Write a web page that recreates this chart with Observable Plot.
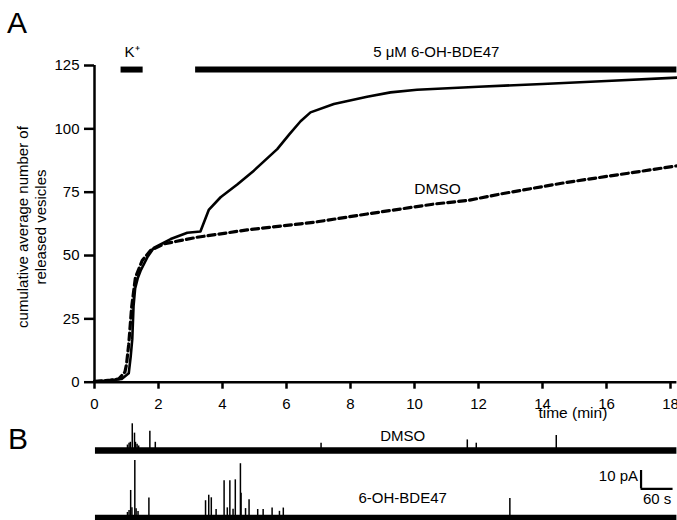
<!DOCTYPE html>
<html><head><meta charset="utf-8">
<script src="https://cdn.jsdelivr.net/npm/d3@7"></script>
<script src="https://cdn.jsdelivr.net/npm/@observablehq/plot@0.6"></script>
<style>
html,body{margin:0;padding:0;background:#fff;}
#fig{position:relative;width:677px;height:520px;overflow:hidden;font-family:Arial,"Liberation Sans",sans-serif;background:#fff;}
#fig svg{display:block;}
.panel{position:absolute;font-size:30px;line-height:30px;color:#000;}
#ylab{position:absolute;left:32px;top:227px;transform:translate(-50%,-50%) rotate(-90deg);white-space:pre;text-align:center;font-size:15px;line-height:18px;color:#000;}
</style></head><body>
<div id="fig"><div id="a"></div><div id="b"></div>
<div class="panel" style="left:7px;top:8px">A</div>
<div class="panel" style="left:8px;top:424px">B</div>
<div id="ylab"></div>
</div>
<script>
// ---- Panel A data: cumulative average number of released vesicles vs time (min)
const bdeTime  = [0, 0.5, 0.85, 1.07, 1.13, 1.18, 1.22, 1.27, 1.35, 1.44, 1.65, 1.85, 2.38, 2.9, 3.31, 3.57, 3.94, 4.46, 4.98, 5.71, 6.1, 6.44, 6.75, 7.48, 8.52, 9.25, 10.08, 12, 14, 16, 18.2];
const bdeCount = [0.3, 0.8, 1.3, 3.5, 10, 17, 30, 37, 41, 44, 49.3, 53, 56.5, 59, 59.5, 68, 73, 78, 83.5, 92, 98, 103, 106.5, 109.8, 112.7, 114.4, 115.4, 116.6, 117.7, 118.9, 120.2];
const dmsoTime  = [0, 0.5, 0.76, 0.95, 1.0, 1.07, 1.16, 1.28, 1.49, 1.75, 2.17, 3.2, 4.77, 6.44, 6.85, 8.52, 10.6, 11.7, 12.69, 14.77, 16.85, 18.2];
const dmsoCount = [0.3, 0.8, 1.3, 4, 7, 15, 29.6, 41.4, 48, 52, 54.6, 57.2, 60.1, 62.5, 63.1, 66.4, 70.3, 71.8, 74.3, 78.9, 82.8, 85.4];
const treatLabels = ["K\u207A", "5 \u03BCM 6-OH-BDE47"];
const treatStart  = [0.83, 3.16];
const treatEnd    = [1.52, 18.2];
const xTicks = [0, 2, 4, 6, 8, 10, 12, 14, 16, 18];
const yTicks = [0, 25, 50, 75, 100, 125];
const yLabel = "cumulative average number of\nreleased vesicles";
const xLabel = "time (min)";

// ---- Panel B data: spikes (time in min, amplitude in pA)
const traceNames = ["DMSO", "6-OH-BDE47"];
const dmsoSpikeTime = [1.03, 1.08, 1.12, 1.18, 1.25, 1.28, 1.33, 1.38, 1.73, 1.90, 7.08, 11.65, 11.93, 14.43];
const dmsoSpikeAmp  = [3, 4, 4.5, 14.6, 9.5, 4.5, 3.5, 2.5, 10.5, 4.5, 4, 5.8, 4, 8.2];
const bdeSpikeTime = [1.03, 1.08, 1.13, 1.17, 1.26, 1.30, 1.36, 1.70, 3.47, 3.57, 3.65, 3.80, 4.05, 4.15, 4.23, 4.33, 4.40, 4.56, 4.58, 4.72, 4.83, 5.10, 5.27, 5.55, 5.78, 5.90, 12.98];
const bdeSpikeAmp  = [3, 4, 15, 5.5, 31.4, 5, 3.5, 10.9, 9.4, 12.4, 11, 4.6, 20.3, 5.5, 20.3, 4.8, 20.8, 29.6, 13.5, 5.1, 9.9, 4.6, 4.6, 5.4, 3.6, 5.4, 10.6];
const scaleBarPA = 10, scaleBarSec = 60;

// ---- build tables
const bde = bdeTime.map((t, i) => ({t, n: bdeCount[i]}));
const dmso = dmsoTime.map((t, i) => ({t, n: dmsoCount[i]}));
const treatments = treatLabels.map((label, i) => ({label, start: treatStart[i], end: treatEnd[i]}));

const font = "Arial, 'Liberation Sans', sans-serif";
const xDomain = [0, 18.2];
const barLevel = 123.4;

document.getElementById("ylab").textContent = yLabel;

const plotA = Plot.plot({
  width: 677, height: 420,
  marginLeft: 94, marginRight: 0.6, marginTop: 65, marginBottom: 38.3,
  style: {fontFamily: font, fontSize: "15px", background: "white", color: "black", overflow: "visible"},
  x: {domain: xDomain},
  y: {domain: [0, 125]},
  marks: [
    Plot.axisY(yTicks, {tickSize: 10, tickPadding: 5, strokeWidth: 2.5, label: null, fontSize: 15}),
    Plot.axisX(xTicks, {tickSize: 7, tickPadding: 9, strokeWidth: 2.5, label: null, fontSize: 15}),
    Plot.ruleY([0], {strokeWidth: 2.5}),
    Plot.ruleX([0], {y1: () => 0, y2: () => 125, strokeWidth: 2.5}),
    Plot.line(dmso, {x: "t", y: "n", strokeWidth: 3.2, strokeDasharray: "7,4"}),
    Plot.line(bde, {x: "t", y: "n", strokeWidth: 2.6}),
    Plot.ruleY(treatments, {y: () => barLevel, x1: "start", x2: "end", strokeWidth: 6}),
    Plot.text(treatments, {x: d => (d.start + d.end) / 2, y: () => barLevel, text: "label", dy: -17, fontSize: 15}),
    Plot.text(["DMSO"], {x: () => 10.72, y: () => 76.4, text: d => d, fontSize: 15.5}),
    Plot.text([xLabel], {x: () => 14.95, frameAnchor: "bottom", dy: 36, text: d => d, fontSize: 15.5})
  ]
});
document.getElementById("a").appendChild(plotA);

// Panel B
const yB = [-1.4, 53.2];
const traceOffset = {"DMSO": 36.8, "6-OH-BDE47": 0};
const labelDy = {"DMSO": -14, "6-OH-BDE47": -20};
const spikes = [
  ...dmsoSpikeTime.map((t, i) => ({trace: "DMSO", t, a: dmsoSpikeAmp[i]})),
  ...bdeSpikeTime.map((t, i) => ({trace: "6-OH-BDE47", t, a: bdeSpikeAmp[i]}))
];
const sbT = 17.08, sbY = 15.9;

const plotB = Plot.plot({
  width: 677, height: 100,
  marginLeft: 94, marginRight: 0.6, marginTop: 0, marginBottom: 0,
  style: {fontFamily: font, fontSize: "15px", background: "white", color: "black", overflow: "visible"},
  x: {domain: xDomain, axis: null},
  y: {domain: yB, axis: null},
  marks: [
    Plot.ruleY(traceNames, {y: d => traceOffset[d], x1: () => 0.03, x2: () => 18.2, strokeWidth: 6.5}),
    Plot.ruleX(spikes, {x: "t", y1: d => traceOffset[d.trace], y2: d => traceOffset[d.trace] + d.a, strokeWidth: 1.5}),
    Plot.text([traceNames[0]], {x: () => 9.63, y: d => traceOffset[d], dy: labelDy["DMSO"], text: d => d, fontSize: 15}),
    Plot.text([traceNames[1]], {x: () => 9.63, y: d => traceOffset[d], dy: labelDy["6-OH-BDE47"], text: d => d, fontSize: 15}),
    Plot.ruleX([scaleBarPA], {x: () => sbT, y1: () => sbY, y2: d => sbY + d, strokeWidth: 2.2}),
    Plot.ruleY([scaleBarSec], {y: () => sbY, x1: () => sbT, x2: d => sbT + d / 60, strokeWidth: 2.2}),
    Plot.text([scaleBarPA], {x: () => sbT, y: d => sbY + d / 2, text: d => d + " pA", textAnchor: "end", dx: -3, dy: -3, fontSize: 15}),
    Plot.text([scaleBarSec], {x: d => sbT + d / 120, y: () => sbY, text: d => d + " s", dy: 10, fontSize: 15})
  ]
});
document.getElementById("b").appendChild(plotB);
</script>
</body></html>
